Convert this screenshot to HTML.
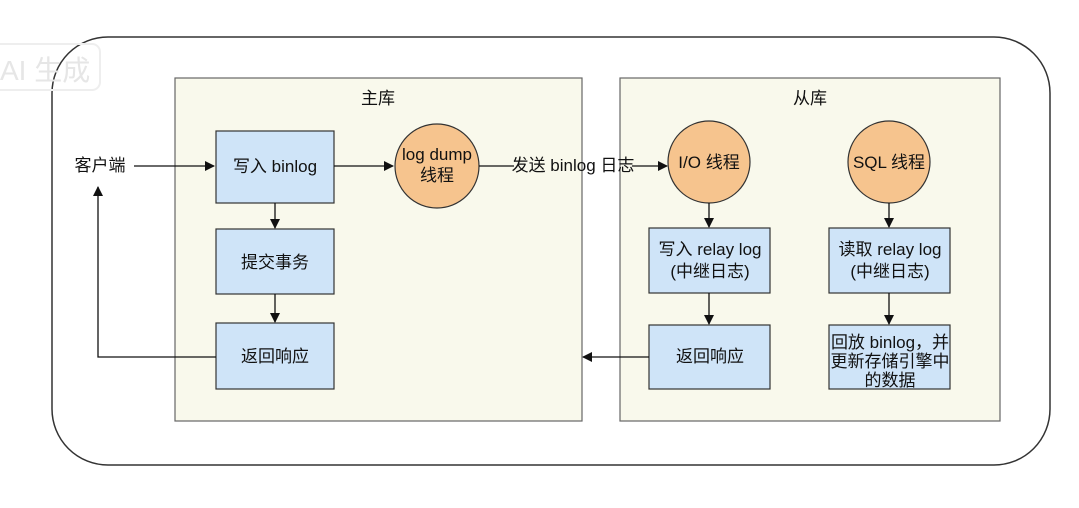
<!DOCTYPE html>
<html><head><meta charset="utf-8"><style>
html,body{margin:0;padding:0;background:#fff;}
svg{display:block;}
text{font-family:"Liberation Sans","Noto Sans CJK SC",sans-serif;fill:#111;}
</style></head><body>
<svg width="1079" height="508" viewBox="0 0 1079 508" xmlns="http://www.w3.org/2000/svg">
<defs>
<marker id="a" markerWidth="10" markerHeight="10" refX="9" refY="5" orient="auto" markerUnits="userSpaceOnUse">
<path d="M0,0 L10,5 L0,10 z" fill="#111"/></marker>
</defs>
<rect x="52" y="37" width="998" height="428" rx="56" fill="#fff" stroke="#333" stroke-width="1.5"/>
<rect x="-10" y="44" width="110" height="46" rx="8" fill="none" stroke="#eee" stroke-width="2"/>
<text x="0" y="80" font-size="28" style="fill:#e6e6e6">AI 生成</text>

<rect x="175" y="78" width="407" height="343" fill="#f9f9ec" stroke="#666" stroke-width="1.2"/>
<rect x="620" y="78" width="380" height="343" fill="#f9f9ec" stroke="#666" stroke-width="1.2"/>
<text x="378" y="104" font-size="17" text-anchor="middle">主库</text>
<text x="810" y="104" font-size="17" text-anchor="middle">从库</text>

<g fill="#cfe4f8" stroke="#333" stroke-width="1.2">
<rect x="216" y="131" width="118" height="72"/>
<rect x="216" y="229" width="118" height="65"/>
<rect x="216" y="323" width="118" height="66"/>
<rect x="649" y="228" width="121" height="65"/>
<rect x="649" y="325" width="121" height="64"/>
<rect x="829" y="228" width="121" height="65"/>
<rect x="829" y="325" width="121" height="64"/>
</g>
<g fill="#f6c48e" stroke="#333" stroke-width="1.2">
<circle cx="437" cy="166" r="42"/>
<circle cx="709" cy="162" r="41"/>
<circle cx="889" cy="162" r="41"/>
</g>

<g font-size="17" text-anchor="middle">
<text x="275" y="172">写入 binlog</text>
<text x="275" y="268">提交事务</text>
<text x="275" y="362">返回响应</text>
<text x="437" y="160">log dump</text>
<text x="437" y="181">线程</text>
<text x="709" y="168">I/O 线程</text>
<text x="889" y="168">SQL 线程</text>
<text x="710" y="255">写入 relay log</text>
<text x="710" y="277">(中继日志)</text>
<text x="890" y="255">读取 relay log</text>
<text x="890" y="277">(中继日志)</text>
<text x="710" y="362">返回响应</text>
<text x="890" y="348">回放 binlog，并</text>
<text x="890" y="367">更新存储引擎中</text>
<text x="890" y="386">的数据</text>
<text x="100" y="171">客户端</text>
<text x="573" y="171">发送 binlog 日志</text>
</g>

<g stroke="#111" stroke-width="1.3" fill="none">
<line x1="134" y1="166" x2="214" y2="166" marker-end="url(#a)"/>
<line x1="334" y1="166" x2="393" y2="166" marker-end="url(#a)"/>
<line x1="479" y1="166" x2="514" y2="166"/>
<line x1="632" y1="166" x2="667" y2="166" marker-end="url(#a)"/>
<line x1="275" y1="203" x2="275" y2="228" marker-end="url(#a)"/>
<line x1="275" y1="294" x2="275" y2="322" marker-end="url(#a)"/>
<polyline points="216,357 98,357 98,187" marker-end="url(#a)"/>
<line x1="709" y1="203" x2="709" y2="227" marker-end="url(#a)"/>
<line x1="709" y1="293" x2="709" y2="324" marker-end="url(#a)"/>
<line x1="889" y1="203" x2="889" y2="227" marker-end="url(#a)"/>
<line x1="889" y1="293" x2="889" y2="324" marker-end="url(#a)"/>
<line x1="649" y1="357" x2="583" y2="357" marker-end="url(#a)"/>
</g>
</svg>
</body></html>
